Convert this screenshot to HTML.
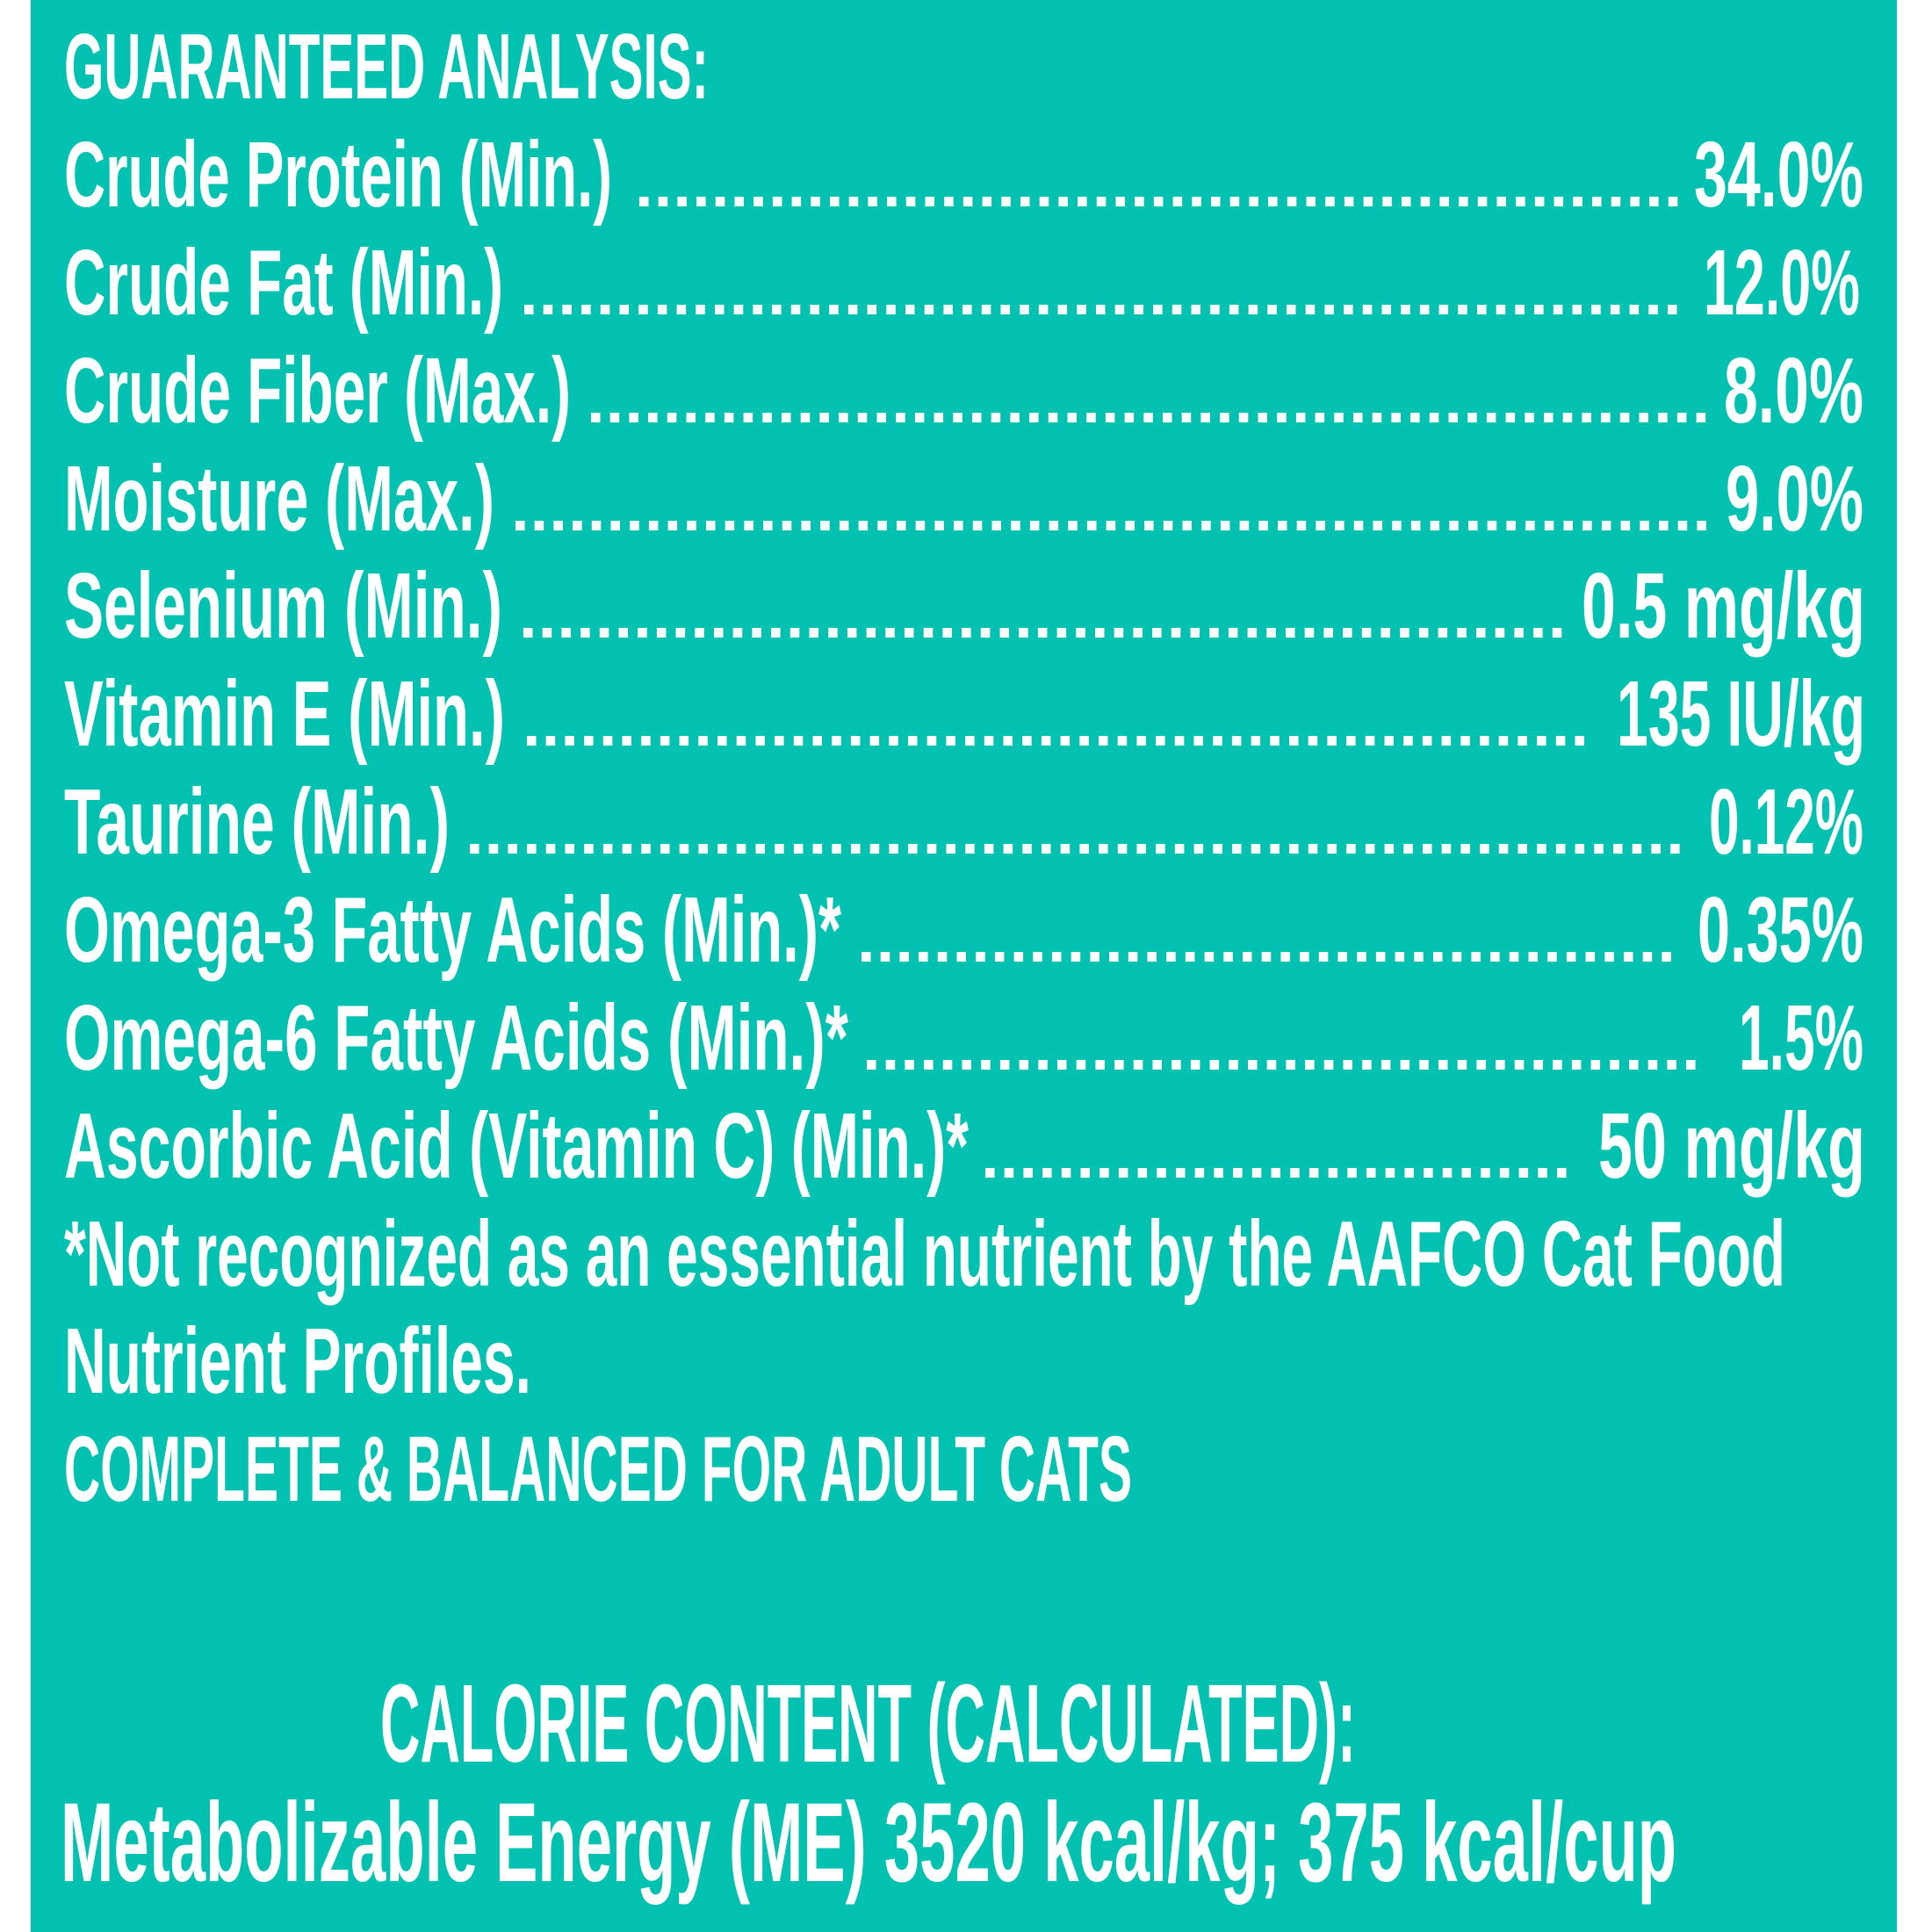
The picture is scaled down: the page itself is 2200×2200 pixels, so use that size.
<!DOCTYPE html>
<html>
<head>
<meta charset="utf-8">
<style>
  html, body { margin: 0; padding: 0; background: #ffffff; }
  svg { display: block; }
  text { font-family: "Liberation Sans", "DejaVu Sans", sans-serif; font-weight: 700; fill: #ffffff; }
  line.d { stroke: #ffffff; stroke-width: 11; }
</style>
</head>
<body>
<svg width="2200" height="2200" viewBox="0 0 2200 2200" xmlns="http://www.w3.org/2000/svg">
  <rect x="0" y="0" width="2200" height="2200" fill="#ffffff"/>
  <rect x="35" y="0" width="2125" height="2200" fill="#01c1b1"/>

  <g font-size="106">
    <text x="73" y="112" textLength="734" lengthAdjust="spacingAndGlyphs">GUARANTEED ANALYSIS:</text>

    <text x="73" y="235" textLength="624" lengthAdjust="spacingAndGlyphs">Crude Protein (Min.)</text>
    <line class="d" x1="728" y1="229.5" x2="1910.3" y2="229.5" stroke-dasharray="10.5 11.2"/>
    <text x="1929" y="235" textLength="193" lengthAdjust="spacingAndGlyphs">34.0%</text>

    <text x="73" y="358" textLength="500" lengthAdjust="spacingAndGlyphs">Crude Fat (Min.)</text>
    <line class="d" x1="597" y1="352.5" x2="1909.5" y2="352.5" stroke-dasharray="10.5 11.2"/>
    <text x="1940" y="358" textLength="178" lengthAdjust="spacingAndGlyphs">12.0%</text>

    <text x="73" y="481" textLength="577" lengthAdjust="spacingAndGlyphs">Crude Fiber (Max.)</text>
    <line class="d" x1="673" y1="475.5" x2="1942.1" y2="475.5" stroke-dasharray="10.5 11.2"/>
    <text x="1963" y="481" textLength="159" lengthAdjust="spacingAndGlyphs">8.0%</text>

    <text x="73" y="604" textLength="490" lengthAdjust="spacingAndGlyphs">Moisture (Max.)</text>
    <line class="d" x1="587" y1="598.5" x2="1942.9" y2="598.5" stroke-dasharray="10.5 11.2"/>
    <text x="1965" y="604" textLength="157" lengthAdjust="spacingAndGlyphs">9.0%</text>

    <text x="73" y="726" textLength="499" lengthAdjust="spacingAndGlyphs">Selenium (Min.)</text>
    <line class="d" x1="596" y1="720.5" x2="1778.3" y2="720.5" stroke-dasharray="10.5 11.2"/>
    <text x="1801" y="726" textLength="323" lengthAdjust="spacingAndGlyphs">0.5 mg/kg</text>

    <text x="73" y="849" textLength="502" lengthAdjust="spacingAndGlyphs">Vitamin E (Min.)</text>
    <line class="d" x1="600" y1="843.5" x2="1804" y2="843.5" stroke-dasharray="10.5 11.2"/>
    <text x="1841" y="849" textLength="283" lengthAdjust="spacingAndGlyphs">135 IU/kg</text>

    <text x="73" y="972" textLength="439" lengthAdjust="spacingAndGlyphs">Taurine (Min.)</text>
    <line class="d" x1="535" y1="966.5" x2="1912.6" y2="966.5" stroke-dasharray="10.5 11.2"/>
    <text x="1946" y="972" textLength="176" lengthAdjust="spacingAndGlyphs">0.12%</text>

    <text x="73" y="1095" textLength="885" lengthAdjust="spacingAndGlyphs">Omega-3 Fatty Acids (Min.)*</text>
    <line class="d" x1="981" y1="1089.5" x2="1902.9" y2="1089.5" stroke-dasharray="10.5 11.2"/>
    <text x="1933" y="1095" textLength="189" lengthAdjust="spacingAndGlyphs">0.35%</text>

    <text x="73" y="1218" textLength="893" lengthAdjust="spacingAndGlyphs">Omega-6 Fatty Acids (Min.)*</text>
    <line class="d" x1="987" y1="1212.5" x2="1930.6" y2="1212.5" stroke-dasharray="10.5 11.2"/>
    <text x="1980" y="1218" textLength="142" lengthAdjust="spacingAndGlyphs">1.5%</text>

    <text x="73" y="1341" textLength="1030" lengthAdjust="spacingAndGlyphs">Ascorbic Acid (Vitamin C) (Min.)*</text>
    <line class="d" x1="1122" y1="1335.5" x2="1783.5" y2="1335.5" stroke-dasharray="10.5 11.2"/>
    <text x="1820" y="1341" textLength="304" lengthAdjust="spacingAndGlyphs">50 mg/kg</text>

    <text x="73" y="1464" textLength="1960" lengthAdjust="spacingAndGlyphs">*Not recognized as an essential nutrient by the AAFCO Cat Food</text>
    <text x="73" y="1586" textLength="532" lengthAdjust="spacingAndGlyphs">Nutrient Profiles.</text>
    <text x="73" y="1709" textLength="1216" lengthAdjust="spacingAndGlyphs">COMPLETE &amp; BALANCED FOR ADULT CATS</text>
  </g>

  <text x="433" y="2006" font-size="126" textLength="1111" lengthAdjust="spacingAndGlyphs">CALORIE CONTENT (CALCULATED):</text>
  <text x="69" y="2142" font-size="128" textLength="1840" lengthAdjust="spacingAndGlyphs">Metabolizable Energy (ME) 3520 kcal/kg; 375 kcal/cup</text>
</svg>
</body>
</html>
